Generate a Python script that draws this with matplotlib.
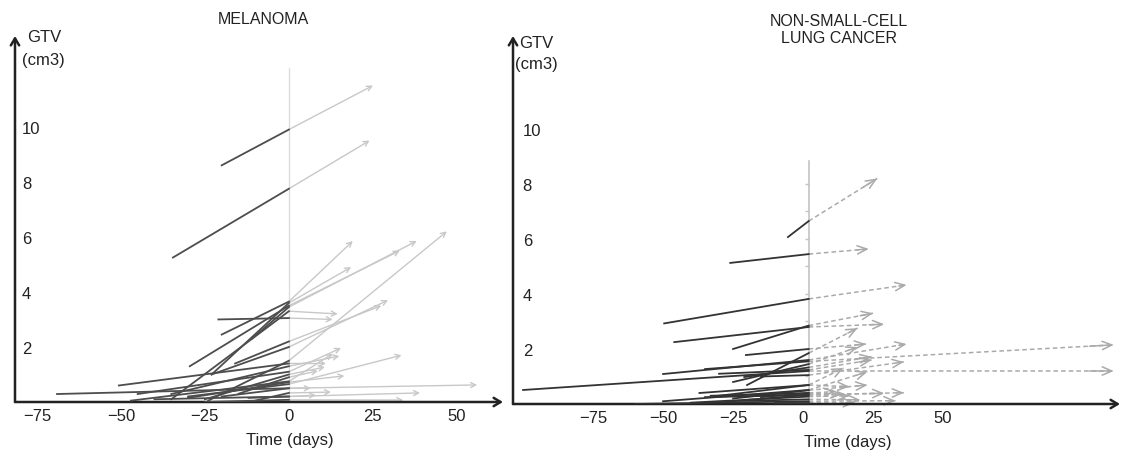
import numpy as np
import matplotlib.pyplot as plt

plt.rcParams['font.family'] = ['Liberation Sans', 'DejaVu Sans']

# Melanoma: each lesion has a pre-treatment point, a value at day 0 and a follow-up point
mel_t_pre = [-20, -34.5, -20, -29.5, -11, -21, -23, -35, -16, -23, -24, -69, -45, -47,
             -35, -30, -25, -15, -30, -20, -10, -40, -25, -50.6, -12]
mel_v_pre = [8.6, 5.25, 2.45, 1.3, 2.3, 3.0, 1.0, 0.1, 1.4, 1.0, 0.05, 0.29, 0.29, 0.05,
             0.29, 0.2, 0.1, 0.3, 0.15, 0.2, 0.05, 0.1, 0.0, 0.6, 0.15]
mel_v0 = [9.9, 7.75, 3.65, 3.5, 3.45, 3.05, 3.6, 3.3, 2.2, 2.0, 1.5, 0.5, 1.1, 0.75,
          1.3, 0.65, 1.0, 0.9, 0.72, 0.5, 0.33, 0.2, 0.08, 1.4, 0.2]
mel_t_post = [25, 24, 19, 33, 38, 13, 18.5, 14.5, 27.5, 29.5, 47, 56, 15.5, 13,
              15, 33.5, 10.7, 8.6, 16.5, 6.5, 12.5, 39, 34, 11, 8]
mel_v_post = [11.5, 9.5, 5.85, 5.5, 5.85, 3.0, 4.9, 3.2, 3.5, 3.7, 6.2, 0.62, 1.96, 1.75,
              1.67, 1.7, 1.27, 1.13, 0.95, 0.5, 0.36, 0.33, 0.07, 1.4, 0.25]

# NSCLC
lung_ref = 2
lung_t_pre = [-5.4, -26, -49.6, -46, -25, -20, -20.4, -50, -35, -100, -25, -21, -30,
              -15, -37, -50, -30, -25, -35, -20, -40, -28, -60, -10, -15, -33]
lung_v_pre = [6.07, 5.13, 2.93, 2.25, 2.0, 0.69, 1.78, 1.09, 1.27, 0.51, 0.8, 0.98, 1.1,
              1.0, 0.4, 0.1, 0.3, 0.2, 0.25, 0.15, 0.05, 0.1, 0.0, 0.05, 0.25, 0.3]
lung_v0 = [6.65, 5.45, 3.82, 2.8, 2.85, 1.85, 2.0, 1.6, 1.55, 1.2, 1.45, 1.33, 1.24,
           1.05, 0.69, 0.51, 0.69, 0.5, 0.33, 0.33, 0.27, 0.17, 0.1, 0.05, 0.4, 0.4]
lung_t_post = [26.5, 23.5, 37, 29, 25, 19.5, 22.5, 37, 111, 111, 19.5, 24.5, 24.5,
               36, 14.5, 23, 16.5, 23, 29, 36, 16.5, 20.5, 33, 18.5, 11.5, 14]
lung_v_post = [8.2, 5.64, 4.33, 2.9, 3.3, 2.76, 2.18, 2.18, 2.15, 1.2, 2.07, 1.72, 1.6,
               1.53, 1.31, 1.17, 0.63, 0.69, 0.39, 0.41, 0.3, 0.15, 0.12, 0.05, 0.45, 0.35]

ticks_x = [-75, -50, -25, 0, 25, 50]
ticks_y = [2, 4, 6, 8, 10]

W, H = 1123, 452
fig = plt.figure(figsize=(W / 100, H / 100), dpi=100)

dark = '#4d4d4d'
axis_col = '#222222'
txt = '#222222'
fs = 12


def make_axes(x0, x1, y_bottom, y_top, xlim, ylim, ylab_pad, xlab_x):
    ax = fig.add_axes([x0 / W, 1 - y_bottom / H, (x1 - x0) / W, (y_bottom - y_top) / H])
    ax.set_xlim(*xlim)
    ax.set_ylim(*ylim)
    for s in ax.spines.values():
        s.set_visible(False)
    ax.patch.set_alpha(0)
    ax.set_xticks(ticks_x)
    ax.set_xticklabels([f'{t}'.replace('-', '\u2212') for t in ticks_x])
    ax.set_yticks(ticks_y)
    ax.tick_params(length=0, labelsize=fs, colors=txt)
    ax.tick_params(axis='x', pad=4)
    ax.tick_params(axis='y', pad=-ylab_pad)
    plt.setp(ax.get_yticklabels(), ha='left')
    ax.set_xlabel('Time (days)', fontsize=fs, color=txt)
    ax.xaxis.set_label_coords((xlab_x - x0) / (x1 - x0), -30 / (y_bottom - y_top))
    ap = dict(arrowstyle='->,head_length=0.5,head_width=0.3', lw=1.8, color=axis_col,
              shrinkA=0, shrinkB=0)
    ax.annotate('', xy=(0, 1), xytext=(0, 0), xycoords='axes fraction', arrowprops=ap,
                annotation_clip=False)
    ax.annotate('', xy=(1, 0), xytext=(0, 0), xycoords='axes fraction', arrowprops=ap,
                annotation_clip=False)
    return ax


# ---- left panel: melanoma
ax1 = make_axes(15, 503, 403, 37, (-81.5, 63.7), (0, 13.3), 5, 290)
ax1.plot([0, 0], [0, 12.15], color='#dddddd', lw=1, zorder=1)
for tp, vp, v0, tq, vq in zip(mel_t_pre, mel_v_pre, mel_v0, mel_t_post, mel_v_post):
    ax1.annotate('', xy=(tq, vq), xytext=(0, v0),
                 arrowprops=dict(arrowstyle='->,head_length=0.35,head_width=0.18',
                                 color='#c8c8c8', lw=1.0, shrinkA=0, shrinkB=0), zorder=2)
    ax1.plot([tp, 0], [vp, v0], color=dark, lw=1.3, zorder=3)
fig.text(263 / W, 1 - 20 / H, 'MELANOMA', ha='center', va='center', fontsize=11.5, color=txt)
fig.text(27 / W, 1 - 38 / H, 'GTV', ha='left', va='center', fontsize=fs, color=txt)
fig.text(22 / W, 1 - 60 / H, '(cm3)', ha='left', va='center', fontsize=fs, color=txt)

# ---- right panel: NSCLC
ax2 = make_axes(513, 1120, 405, 37, (-103.6, 113.2), (0, 13.38), 7, 848)
ax2.plot([lung_ref, lung_ref], [0, 8.84], color='#c4c4c4', lw=1.2, zorder=1)
ax2.plot([lung_ref] * 8, np.arange(1, 9), ls='none', marker=0, ms=3, color='#c4c4c4', zorder=1)
for tp, vp, v0, tq, vq in zip(lung_t_pre, lung_v_pre, lung_v0, lung_t_post, lung_v_post):
    ax2.plot([lung_ref, tq], [v0, vq], color='#aaaaaa', lw=1.1, ls=(0, (3, 2)), zorder=2)
    f = 0.92 if tq - lung_ref > 30 else 0.8
    ax2.annotate('', xy=(tq, vq), xytext=(lung_ref + f * (tq - lung_ref), v0 + f * (vq - v0)),
                 arrowprops=dict(arrowstyle='->,head_length=0.7,head_width=0.3',
                                 color='#aaaaaa', lw=1.1, shrinkA=0, shrinkB=0), zorder=2)
    ax2.plot([tp, lung_ref], [vp, v0], color='#333333', lw=1.3, zorder=3)
fig.text(839 / W, 1 - 30 / H, 'NON-SMALL-CELL\nLUNG CANCER', ha='center', va='center',
         fontsize=11.5, color=txt, linespacing=1.1)
fig.text(519 / W, 1 - 44 / H, 'GTV', ha='left', va='center', fontsize=fs, color=txt)
fig.text(515 / W, 1 - 64 / H, '(cm3)', ha='left', va='center', fontsize=fs, color=txt)

fig.savefig('out.png', dpi=100)
